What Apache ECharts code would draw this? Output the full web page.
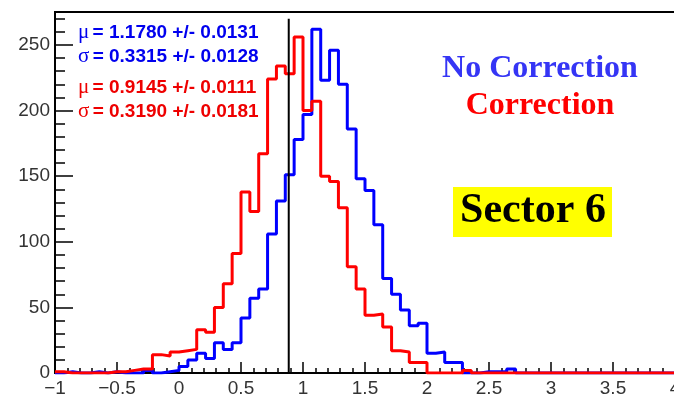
<!DOCTYPE html>
<html>
<head>
<meta charset="utf-8">
<title>Sector 6</title>
<script src="https://cdn.jsdelivr.net/npm/echarts@6.0.0/dist/echarts.min.js"></script>
<style>
    html, body { margin: 0; padding: 0; background: #fff; }
    #chart { width: 674px; height: 395px; }
</style>
</head>
<body>
<div id="chart"></div>
<script>
'use strict';

// histogram binning (70 bins from -1 to 4)
const xMin = -1;
const xMax = 4;

// bin contents
const noCorrection = [
    0, 1, 0, 0, 1, 0, 1, 0, 0, 0,
    2, 0, 1, 2, 5, 10, 15, 11, 23, 18,
    23, 42, 57, 64, 106, 131, 151, 178, 197, 262,
    223, 246, 220, 186, 148, 139, 113, 72, 60, 48,
    36, 38, 15, 16, 8, 8, 0, 0, 1, 1,
    1, 3, 0, 0, 0, 0, 0, 0, 0, 0,
    0, 0, 0, 0, 0, 0, 0, 0, 0, 0
];
const correction = [
    1, 0, 0, 0, 0, 0, 1, 1, 2, 3,
    3, 14, 13, 16, 17, 18, 33, 31, 50, 68,
    91, 138, 123, 167, 224, 234, 228, 256, 200, 207,
    150, 146, 126, 81, 64, 44, 45, 35, 17, 16,
    8, 8, 0, 0, 0, 0, 2, 0, 0, 0,
    0, 0, 0, 0, 0, 0, 0, 0, 0, 0,
    0, 0, 0, 0, 0, 0, 0, 0, 0, 0
];

// fit results
const statsBlue = ['μ|= 1.1780 +/- 0.0131', 'σ|= 0.3315 +/- 0.0128'];
const statsRed = ['μ|= 0.9145 +/- 0.0111', 'σ|= 0.3190 +/- 0.0181'];

// vertical marker
const cutX = 0.885;
const cutTop = 270;

const yMax = 275.1;

// bin contents -> step line points (left edge of every bin + closing point)
function toSteps(counts) {
    let w = (xMax - xMin) / counts.length;
    let pts = counts.map((c, i) => [xMin + i * w, c]);
    pts.push([xMax, counts[counts.length - 1]]);
    return pts;
}

function statText(s, y, color) {
    let parts = s.split('|');
    return {
        type: 'text',
        left: 78,
        top: y,
        style: {
            text: '{g|' + parts[0] + '} {b|' + parts[1] + '}',
            fill: color,
            rich: {
                g: { fontFamily: 'Liberation Serif', fontSize: 21, fill: color },
                b: { fontFamily: 'Liberation Sans', fontWeight: 'bold', fontSize: 19, fill: color }
            }
        }
    };
}

let chart = echarts.init(document.getElementById('chart'), null, { renderer: 'canvas' });

let option = {
    animation: false,
    backgroundColor: '#fff',
    grid: {
        left: 55,
        top: 12,
        width: 620,
        height: 361,
        show: true,
        borderColor: '#000',
        borderWidth: 2,
        containLabel: false,
        outerBoundsMode: 'none'
    },
    xAxis: {
        type: 'value',
        min: xMin,
        max: xMax,
        interval: 0.5,
        axisLine: { onZero: false, lineStyle: { color: '#000', width: 2 } },
        axisTick: { inside: true, length: 11, lineStyle: { color: '#000', width: 1.5 } },
        minorTick: { show: true, splitNumber: 5, length: 5, lineStyle: { color: '#000', width: 1.5 } },
        splitLine: { show: false },
        axisLabel: {
            margin: 6,
            fontFamily: 'Liberation Sans',
            fontSize: 19,
            color: '#333',
            showMaxLabel: true,
            formatter: v => String(v).replace('-', '\u2212')
        }
    },
    yAxis: {
        type: 'value',
        min: 0,
        max: yMax,
        interval: 50,
        axisLine: { show: true, onZero: false, lineStyle: { color: '#000', width: 2 } },
        axisTick: { inside: true, length: 18, lineStyle: { color: '#000', width: 1.5 } },
        minorTick: { show: true, splitNumber: 5, length: 10, lineStyle: { color: '#000', width: 1.5 } },
        splitLine: { show: false },
        axisLabel: {
            margin: 5,
            fontFamily: 'Liberation Sans',
            fontSize: 19,
            color: '#333',
            showMaxLabel: false
        }
    },
    series: [
        {
            name: 'No Correction',
            type: 'line',
            step: 'end',
            showSymbol: false,
            data: toSteps(noCorrection),
            lineStyle: { color: '#0000ff', width: 3 }
        },
        {
            name: 'Correction',
            type: 'line',
            step: 'end',
            showSymbol: false,
            data: toSteps(correction),
            lineStyle: { color: '#ff0000', width: 3 }
        },
        {
            name: 'cut',
            type: 'line',
            showSymbol: false,
            data: [[cutX, 0], [cutX, cutTop]],
            lineStyle: { color: '#000', width: 2 }
        }
    ],
    graphic: [
        statText(statsBlue[0], 22, '#0000ee'),
        statText(statsBlue[1], 46, '#0000ee'),
        statText(statsRed[0], 77, '#ee0000'),
        statText(statsRed[1], 101, '#ee0000'),
        {
            type: 'text',
            x: 540,
            y: 69,
            style: {
                text: 'No Correction',
                font: 'bold 32px "Liberation Serif"',
                fill: '#3535f5',
                align: 'center',
                verticalAlign: 'middle'
            }
        },
        {
            type: 'text',
            x: 540,
            y: 106,
            style: {
                text: 'Correction',
                font: 'bold 32px "Liberation Serif"',
                fill: '#ff0000',
                align: 'center',
                verticalAlign: 'middle'
            }
        },
        {
            type: 'rect',
            shape: { x: 453, y: 187, width: 159, height: 50 },
            style: { fill: '#ffff00' }
        },
        {
            type: 'text',
            x: 533,
            y: 211,
            style: {
                text: 'Sector 6',
                font: 'bold 42px "Liberation Serif"',
                fill: '#000',
                align: 'center',
                verticalAlign: 'middle'
            }
        }
    ]
};

chart.setOption(option);
</script>
</body>
</html>
